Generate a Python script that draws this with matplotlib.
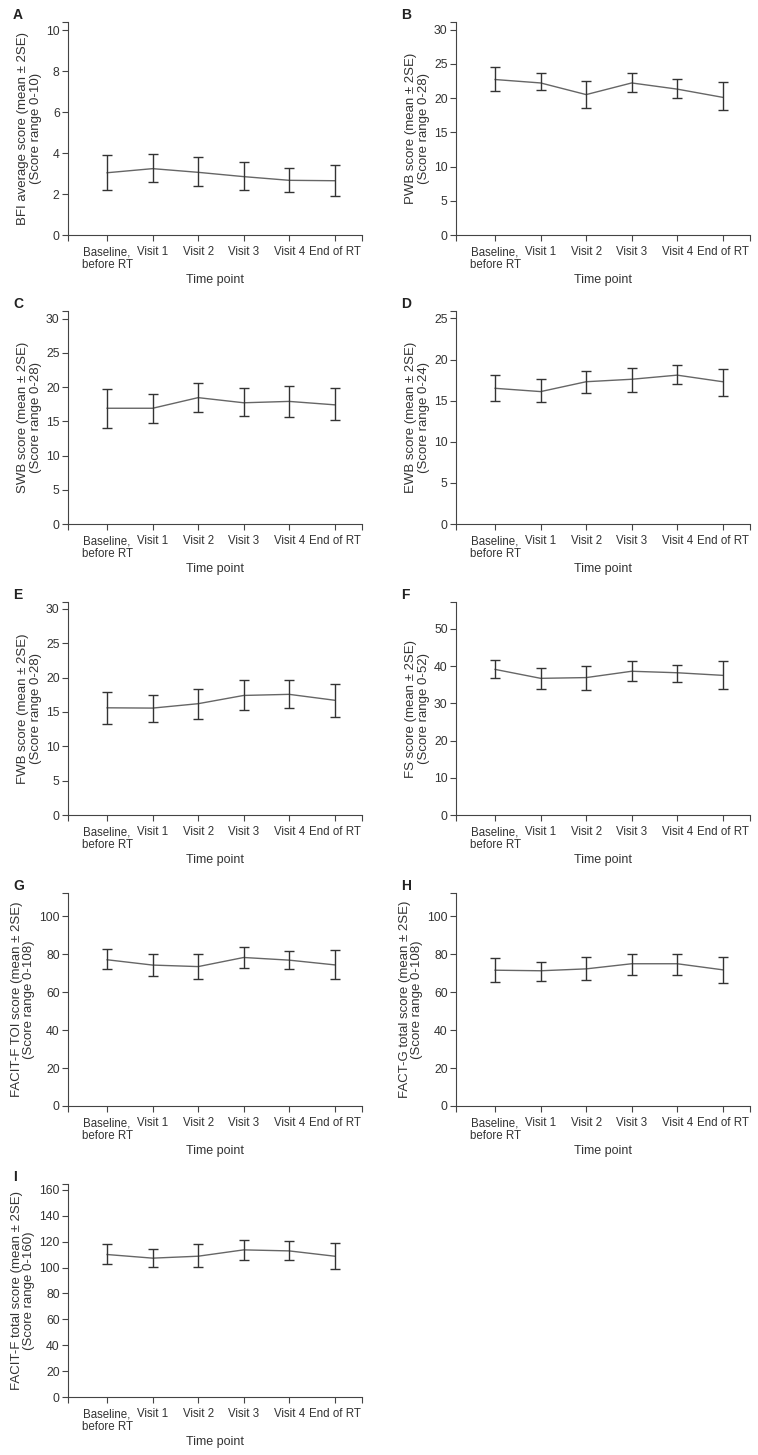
import matplotlib.pyplot as plt
import numpy as np

plt.rcParams['font.family'] = ['Liberation Sans', 'DejaVu Sans']

time_points = ['Baseline,\nbefore RT', 'Visit 1', 'Visit 2', 'Visit 3', 'Visit 4', 'End of RT']

# panel letters, y labels, axis limits and ticks
panels = ['A', 'B', 'C', 'D', 'E', 'F', 'G', 'H', 'I']
ylabels = [
    'BFI average score (mean ± 2SE)\n(Score range 0-10)',
    'PWB score (mean ± 2SE)\n(Score range 0-28)',
    'SWB score (mean ± 2SE)\n(Score range 0-28)',
    'EWB score (mean ± 2SE)\n(Score range 0-24)',
    'FWB score (mean ± 2SE)\n(Score range 0-28)',
    'FS score (mean ± 2SE)\n(Score range 0-52)',
    'FACIT-F TOI score (mean ± 2SE)\n(Score range 0-108)',
    'FACT-G total score (mean ± 2SE)\n(Score range 0-108)',
    'FACIT-F total score (mean ± 2SE)\n(Score range 0-160)',
]
ymax = [10.4, 31.1, 31.1, 25.9, 31.0, 57.2, 112.3, 112.3, 164.6]
ystep = [2, 5, 5, 5, 5, 10, 20, 20, 20]
ytop = [10, 30, 30, 25, 30, 50, 100, 100, 160]

# means and error bar ends (mean ± 2SE)
bfi_mean = [3.04, 3.24, 3.06, 2.85, 2.67, 2.65]
bfi_hi = [3.89, 3.97, 3.79, 3.58, 3.28, 3.40]
bfi_lo = [2.20, 2.59, 2.37, 2.18, 2.08, 1.89]

pwb_mean = [22.7, 22.2, 20.5, 22.2, 21.3, 20.1]
pwb_hi = [24.5, 23.6, 22.5, 23.6, 22.8, 22.4]
pwb_lo = [21.0, 21.1, 18.5, 20.9, 20.0, 18.2]

swb_mean = [16.9, 16.9, 18.45, 17.7, 17.9, 17.4]
swb_hi = [19.7, 19.0, 20.6, 19.8, 20.1, 19.8]
swb_lo = [14.0, 14.8, 16.3, 15.7, 15.6, 15.2]

ewb_mean = [16.5, 16.1, 17.3, 17.6, 18.1, 17.3]
ewb_hi = [18.1, 17.6, 18.6, 19.0, 19.3, 18.9]
ewb_lo = [14.9, 14.8, 15.9, 16.1, 17.0, 15.6]

fwb_mean = [15.6, 15.56, 16.2, 17.4, 17.56, 16.7]
fwb_hi = [17.9, 17.46, 18.4, 19.6, 19.6, 19.1]
fwb_lo = [13.3, 13.6, 14.0, 15.3, 15.6, 14.3]

fs_mean = [39.1, 36.7, 36.9, 38.6, 38.2, 37.5]
fs_hi = [41.6, 39.6, 40.1, 41.3, 40.4, 41.3]
fs_lo = [36.7, 33.8, 33.6, 35.9, 35.7, 33.8]

toi_mean = [77.1, 74.3, 73.5, 78.3, 76.9, 74.4]
toi_hi = [82.7, 79.9, 80.1, 83.8, 81.7, 82.2]
toi_lo = [72.1, 68.6, 66.8, 72.7, 72.1, 66.8]

factg_mean = [71.6, 71.3, 72.3, 75.0, 75.0, 71.8]
factg_hi = [77.8, 75.7, 78.3, 80.4, 80.4, 78.3]
factg_lo = [65.4, 65.8, 66.3, 69.0, 69.0, 64.7]

facit_mean = [110.1, 107.3, 108.8, 113.7, 112.9, 108.8]
facit_hi = [118.6, 114.2, 118.1, 121.4, 120.4, 118.8]
facit_lo = [102.4, 100.3, 100.1, 105.5, 105.5, 98.8]

series = [
    (bfi_mean, bfi_lo, bfi_hi),
    (pwb_mean, pwb_lo, pwb_hi),
    (swb_mean, swb_lo, swb_hi),
    (ewb_mean, ewb_lo, ewb_hi),
    (fwb_mean, fwb_lo, fwb_hi),
    (fs_mean, fs_lo, fs_hi),
    (toi_mean, toi_lo, toi_hi),
    (factg_mean, factg_lo, factg_hi),
    (facit_mean, facit_lo, facit_hi),
]

W, H = 758, 1455
fig = plt.figure(figsize=(W / 100, H / 100), dpi=100)

# axes boxes in pixels: left x, bottom y (from top)
col_left = [68, 456]
row_bottom = [235, 524, 815, 1106, 1397]
ax_w, ax_h = 294, 213
text_col = '#333333'

x = np.arange(len(time_points))
for i, (name, ylab, (mean, lo, hi)) in enumerate(zip(panels, ylabels, series)):
    r, c = divmod(i, 2)
    left = col_left[c]
    bottom = row_bottom[r]
    ax = fig.add_axes([left / W, 1 - bottom / H, ax_w / W, ax_h / H])
    mean = np.array(mean)
    yerr = np.vstack([mean - np.array(lo), np.array(hi) - mean])
    ax.plot(x, mean, color='#666666', lw=1.0, zorder=2)
    ax.errorbar(x, mean, yerr=yerr, fmt='none', ecolor='#333333',
                elinewidth=1.0, capsize=3.3, capthick=1.0, zorder=3)
    ax.set_xlim(-0.86, 5.6)
    ax.set_ylim(0, ymax[i])
    ax.set_yticks(np.arange(0, ytop[i] + 0.01, ystep[i]))
    ax.set_yticks([ymax[i]], minor=True)
    ax.set_xticks(x)
    ax.set_xticks([-0.86, 5.6], minor=True)
    ax.set_xticklabels(time_points, linespacing=1.1)
    ax.tick_params(axis='both', which='both', direction='out', length=4,
                   width=0.8, color='#444444', labelsize=8.3, labelcolor=text_col, pad=2)
    ax.tick_params(axis='y', labelsize=8.8)
    ax.tick_params(axis='x', pad=4)
    for s in ['top', 'right']:
        ax.spines[s].set_visible(False)
    for s in ['left', 'bottom']:
        ax.spines[s].set_color('#444444')
        ax.spines[s].set_linewidth(0.8)
    ax.set_xlabel('Time point', fontsize=9.0, color=text_col, labelpad=2)
    ax.set_ylabel(ylab, fontsize=9.5, color=text_col, linespacing=1.05, labelpad=3)
    fig.text((left - 55) / W, 1 - (bottom - ax_h - 7) / H, name, fontsize=10,
             fontweight='bold', color='#222222', ha='left', va='center')

fig.savefig('out.png', dpi=100)
